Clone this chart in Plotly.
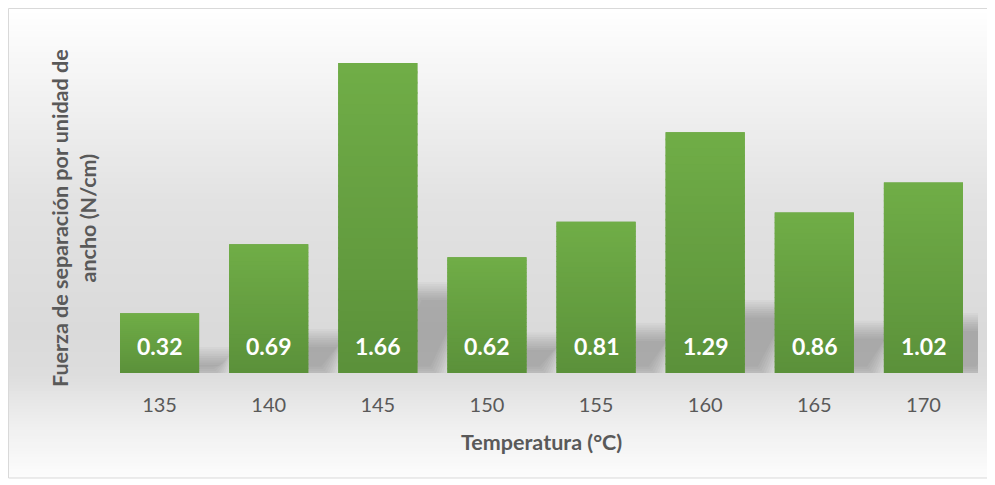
import plotly.graph_objects as go

temperaturas = ["135", "140", "145", "150", "155", "160", "165", "170"]
fuerza = [0.32, 0.69, 1.66, 0.62, 0.81, 1.29, 0.86, 1.02]

BAR_COLOR = "#64a040"
BAR_TOP = (112, 173, 71)
BAR_BOTTOM = (91, 145, 58)
TEXT_GRAY = "#595959"
FONT = "Lato"

# the page puts the figure 8px in from the top-left corner
OFF = 8
W, H = 987, 477
M_L, M_R, M_T, M_B = 97, 17, 22, 112
Y_MAX = 343 / 186.7
BAR_W = 0.725

xs = list(range(len(temperaturas)))

fig = go.Figure()
fig.add_trace(
    go.Bar(
        x=xs,
        y=fuerza,
        width=BAR_W,
        marker={"color": BAR_COLOR, "line": {"width": 0}},
        hoverinfo="skip",
    )
)

shapes = []


def py_paper(py):
    # screen pixel (reference coordinates) -> paper y
    return (H - M_B - (py - OFF)) / (H - M_B - M_T)


def px_paper(px):
    return (px - OFF - M_L) / (W - M_L - M_R)


# background gradient (white -> light gray around the bar bases -> white)
stops = [(7, 255), (60, 247), (200, 226), (330, 218), (373, 221), (420, 238), (478, 253)]
band = 3
py = 7
while py < 478:
    for (a, ca), (b, cb) in zip(stops, stops[1:]):
        if a <= py <= b:
            c = int(round(ca + (cb - ca) * (py - a) / (b - a)))
            break
    shapes.append(
        dict(
            type="rect", xref="paper", yref="paper", layer="below",
            x0=px_paper(8), x1=px_paper(988),
            y0=py_paper(min(py + band, 478)), y1=py_paper(py),
            fillcolor=f"rgb({c},{c},{c})", line={"width": 0},
        )
    )
    py += band

# soft perspective shadows to the right of the bars
for i, v in zip(xs, fuerza):
    h = 0.26 * v
    s = 0.15 * v + 0.04
    xr = i + BAR_W / 2
    for k in range(8, -1, -1):
        gx = 0.016 * k
        gy = 0.012 * k
        x0 = xr - 0.25 - gx
        x1 = xr + 0.12 + gx
        top = max(h + gy - 0.04, 0.03)
        bot = 0.035 - gy
        path = (
            f"M {x0},{bot} L {x1},{bot} L {x1 + s},{top} "
            f"L {x0 + s},{top} Z"
        )
        shapes.append(
            dict(type="path", xref="x", yref="y", layer="below", path=path,
                 fillcolor="rgba(40,40,40,0.03)", line={"width": 0})
        )

# vertical gradient on each bar
n_steps = 30
for i, v in zip(xs, fuerza):
    for k in range(n_steps):
        t = (k + 0.5) / n_steps
        r, g, b = (round(lo + (hi - lo) * t) for lo, hi in zip(BAR_BOTTOM, BAR_TOP))
        shapes.append(
            dict(type="rect", xref="x", yref="y", layer="above",
                 x0=i - BAR_W / 2, x1=i + BAR_W / 2,
                 y0=v * k / n_steps, y1=min(v * (k + 1.2) / n_steps, v),
                 fillcolor=f"rgb({r},{g},{b})", line={"width": 0})
        )

# outer chart border
shapes.append(
    dict(type="rect", xref="paper", yref="paper",
         x0=px_paper(8.5), x1=px_paper(988),
         y0=py_paper(478), y1=py_paper(8.5),
         line={"color": "#d9d9d9", "width": 1}, fillcolor="rgba(0,0,0,0)")
)

annotations = [
    dict(
        x=i, y=0, xref="x", yref="y", text=f"<b>{v:.2f}</b>", showarrow=False,
        yanchor="middle", yshift=27,
        font={"family": FONT, "size": 23, "color": "white"},
    )
    for i, v in zip(xs, fuerza)
]
annotations.append(
    dict(
        x=px_paper(74), y=py_paper(218), xref="paper", yref="paper",
        text="<b>Fuerza de separación por unidad de<br>ancho (N/cm)</b>",
        textangle=-90, showarrow=False, xanchor="center", yanchor="middle",
        font={"family": FONT, "size": 21.5, "color": TEXT_GRAY},
    )
)
annotations.append(
    dict(
        x=px_paper(541), y=py_paper(442), xref="paper", yref="paper",
        text="<b>Temperatura (°C)</b>", showarrow=False,
        xanchor="center", yanchor="middle",
        font={"family": FONT, "size": 21.5, "color": TEXT_GRAY},
    )
)

fig.update_layout(
    width=W,
    height=H,
    margin={"l": M_L, "r": M_R, "t": M_T, "b": M_B},
    paper_bgcolor="white",
    plot_bgcolor="rgba(0,0,0,0)",
    showlegend=False,
    shapes=shapes,
    annotations=annotations,
    font={"family": FONT, "color": TEXT_GRAY},
)
fig.update_xaxes(
    range=[-0.5, len(xs) - 0.5],
    tickvals=xs,
    ticktext=temperaturas,
    tickfont={"family": FONT, "size": 20, "color": TEXT_GRAY},
    ticks="",
    ticklabelstandoff=18,
    showgrid=False,
    zeroline=False,
    showline=False,
    fixedrange=True,
)
fig.update_yaxes(
    range=[0, Y_MAX],
    visible=False,
    fixedrange=True,
)

fig.write_html("out.html")
